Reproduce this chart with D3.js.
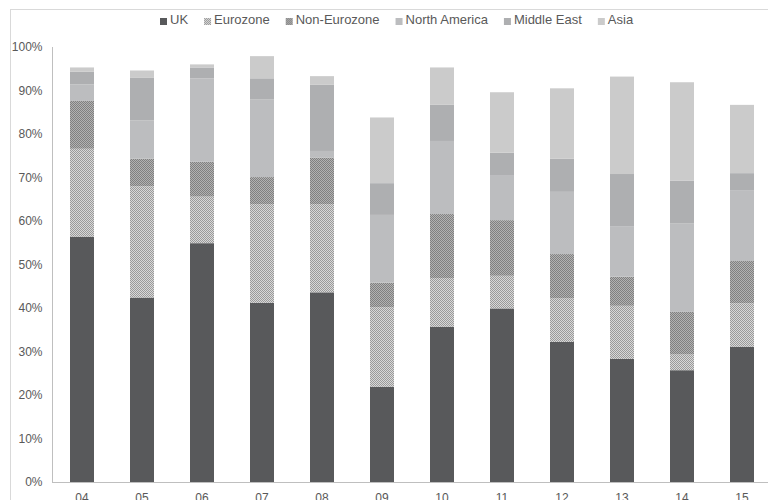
<!DOCTYPE html>
<html>
<head>
<meta charset="utf-8">
<script src="https://cdn.jsdelivr.net/npm/d3@7/dist/d3.min.js"></script>
<style>
  html, body { margin: 0; padding: 0; background: #fff; }
  svg { display: block; font-family: "Liberation Sans", Arial, sans-serif; }
</style>
</head>
<body>
<svg id="chart" width="768" height="500"></svg>
<script>
// ---- Data ----
const years = ["04","05","06","07","08","09","10","11","12","13","14","15"];
const seriesNames = ["UK","Eurozone","Non-Eurozone","North America","Middle East","Asia"];
const uk          = [56.4, 42.4, 54.9, 41.2, 43.6, 21.9, 35.7, 39.9, 32.2, 28.3, 25.7, 31.1];
const eurozone    = [20.2, 25.6, 10.7, 22.7, 20.3, 18.3, 11.2,  7.5, 10.0, 12.2,  3.6, 10.0];
const nonEurozone = [11.0,  6.3,  8.0,  6.2, 10.7,  5.6, 14.7, 12.8, 10.2,  6.7,  9.8,  9.7];
const northAmerica= [ 3.8,  8.8, 19.2, 17.9,  1.5, 15.6, 16.8, 10.2, 14.3, 11.5, 20.3, 16.3];
const middleEast  = [ 2.9,  9.8,  2.5,  4.8, 15.2,  7.3,  8.3,  5.3,  7.6, 12.1,  9.9,  3.9];
const asia        = [ 1.0,  1.7,  0.7,  5.1,  2.0, 15.1,  8.6, 13.9, 16.2, 22.4, 22.6, 15.7];
const yTicks = [0, 10, 20, 30, 40, 50, 60, 70, 80, 90, 100];

const seriesValues = [uk, eurozone, nonEurozone, northAmerica, middleEast, asia];
const rows = years.map((y, i) => {
  const r = { year: y };
  seriesNames.forEach((s, j) => r[s] = seriesValues[j][i]);
  return r;
});

const svg = d3.select("#chart");
const defs = svg.append("defs");

function checker(id, light, dark) {
  const p = defs.append("pattern").attr("id", id)
    .attr("patternUnits", "userSpaceOnUse").attr("width", 2).attr("height", 2);
  p.append("rect").attr("width", 2).attr("height", 2).attr("fill", light);
  p.append("rect").attr("x", 0).attr("y", 0).attr("width", 1).attr("height", 1).attr("fill", dark);
  p.append("rect").attr("x", 1).attr("y", 1).attr("width", 1).attr("height", 1).attr("fill", dark);
}
checker("pEuro", "#d8d8d8", "#9a9a9a");
checker("pNonEuro", "#b2b2b2", "#808080");

const fills = {
  "UK": "#58595b",
  "Eurozone": "url(#pEuro)",
  "Non-Eurozone": "url(#pNonEuro)",
  "North America": "#bcbdbf",
  "Middle East": "#aeafb1",
  "Asia": "#cbcbcb"
};

const textColor = "#595959";
const axisColor = "#bfbfbf";

// chart area border (partially visible)
svg.append("line").attr("x1", 10.5).attr("x2", 10.5).attr("y1", 9).attr("y2", 500)
  .attr("stroke", "#d9d9d9").attr("stroke-width", 1);
svg.append("line").attr("x1", 10).attr("x2", 768).attr("y1", 9.5).attr("y2", 9.5)
  .attr("stroke", "#d9d9d9").attr("stroke-width", 1);

const x = d3.scaleBand().domain(years).range([52, 772]).paddingInner(0.6).paddingOuter(0.3);
const y = d3.scaleLinear().domain([0, 100]).range([482, 47]);

const stack = d3.stack().keys(seriesNames);
const stacked = stack(rows);

svg.append("g").selectAll("g").data(stacked).join("g")
  .attr("fill", d => fills[d.key])
  .selectAll("rect").data(d => d).join("rect")
  .attr("x", d => Math.round(x(d.data.year)))
  .attr("width", Math.round(x.bandwidth()))
  .attr("y", d => y(d[1]))
  .attr("height", d => y(d[0]) - y(d[1]));

// Y axis
const yAxis = svg.append("g").attr("transform", "translate(52.5,0)")
  .call(d3.axisLeft(y).tickValues(yTicks).tickFormat(d => d + "%").tickSize(0).tickPadding(10));
yAxis.select(".domain").attr("stroke", axisColor).attr("d", `M0,${y(100)}V${y(0)}`);
yAxis.selectAll("text").attr("fill", textColor).attr("font-size", 12)
  .attr("font-family", "Liberation Sans, Arial, sans-serif");

// X axis
const xAxis = svg.append("g").attr("transform", "translate(0,482.5)")
  .call(d3.axisBottom(x).tickSize(0).tickPadding(11));
xAxis.select(".domain").attr("stroke", axisColor).attr("d", "M52,0H768");
xAxis.selectAll("text").attr("fill", textColor).attr("font-size", 12)
  .attr("font-family", "Liberation Sans, Arial, sans-serif");

// Legend
const legend = svg.append("g");
const items = legend.selectAll("g").data(seriesNames).join("g");
items.append("rect").attr("width", 7).attr("height", 7).attr("y", -6)
  .attr("fill", d => fills[d]);
items.append("text").attr("x", 10).attr("y", 0).attr("font-size", 13)
  .attr("fill", textColor).text(d => d);
let cx = 0;
const gap = 16;
items.each(function() {
  const g = d3.select(this);
  g.attr("transform", `translate(${cx},0)`);
  const w = g.select("text").node().getComputedTextLength();
  cx += 10 + w + gap;
});
const totalW = cx - gap;
legend.attr("transform", `translate(${Math.round(397 - totalW / 2)},24)`);
</script>
</body>
</html>
